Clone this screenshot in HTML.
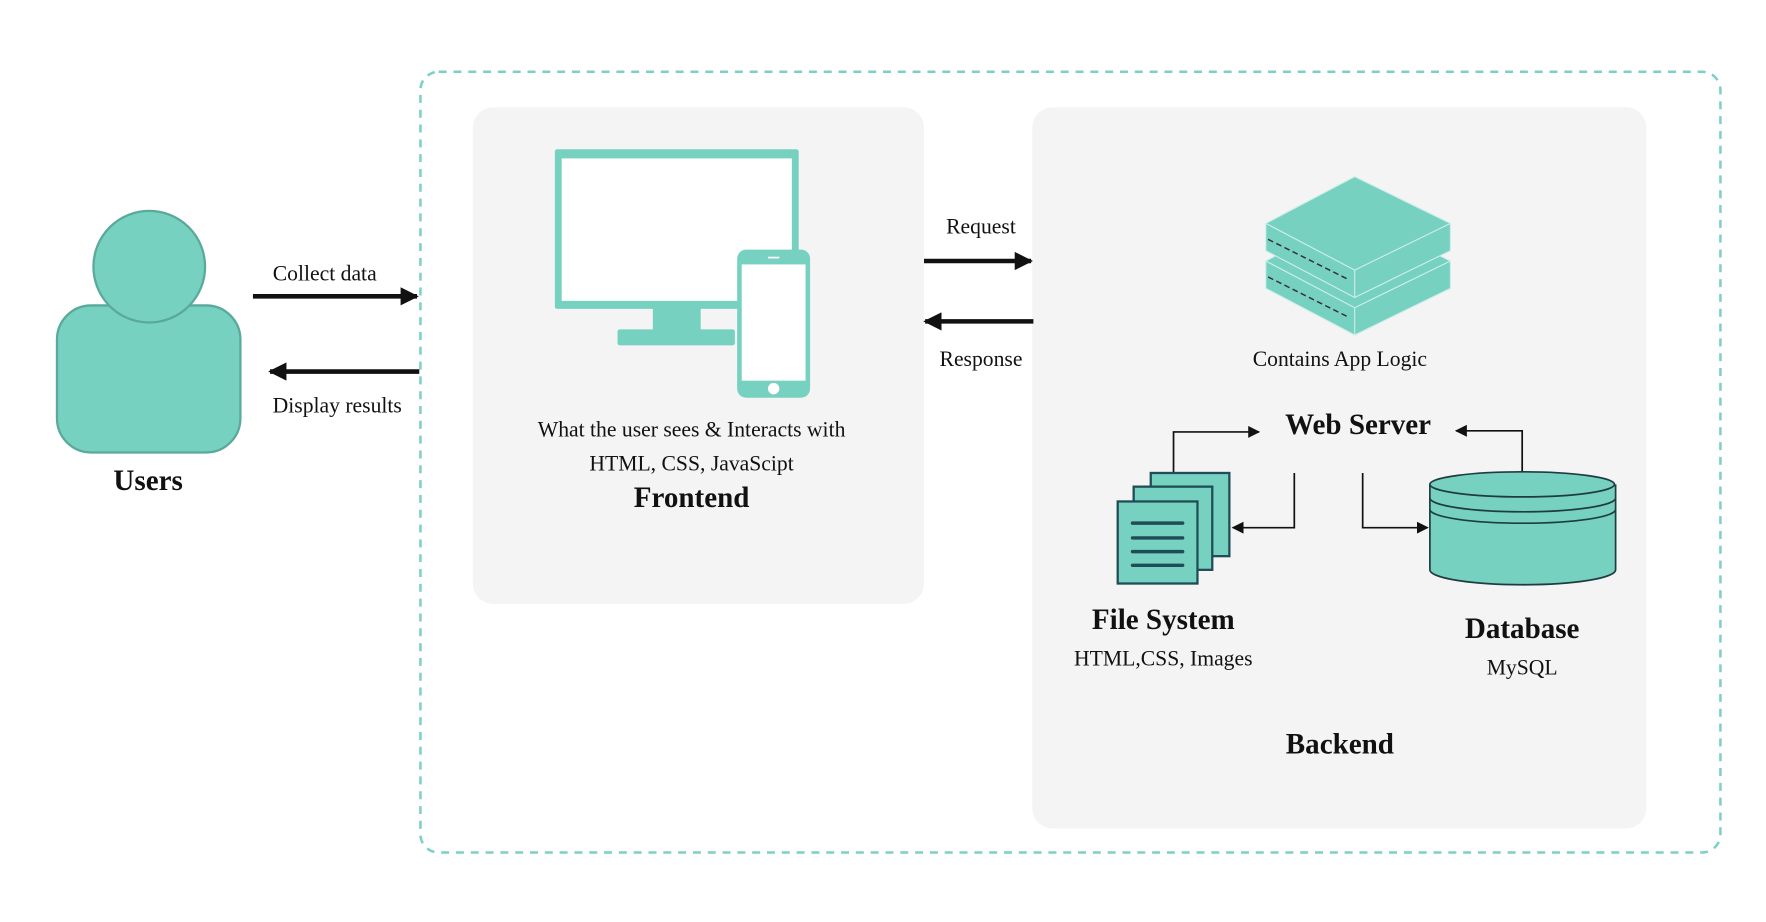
<!DOCTYPE html>
<html><head><meta charset="utf-8"><style>
html,body{margin:0;padding:0;background:#fff;width:1766px;height:922px;overflow:hidden}
svg{display:block}
text{font-family:"Liberation Serif",serif;fill:#111;text-anchor:middle}
</style></head><body>
<svg width="1766" height="922" viewBox="0 0 1550 809" preserveAspectRatio="none" xmlns="http://www.w3.org/2000/svg">
<defs>
<marker id="ah" viewBox="0 0 10 10" refX="9" refY="5" markerWidth="4" markerHeight="4" orient="auto"><path d="M0,0 L10,5 L0,10 z" fill="#111"/></marker>
<marker id="as" viewBox="0 0 10 10" refX="9" refY="5" markerWidth="7" markerHeight="7" orient="auto"><path d="M0,0 L10,5 L0,10 z" fill="#111"/></marker>
</defs>
<rect x="369" y="63" width="1141" height="685" rx="16" fill="none" stroke="#7ecfc4" stroke-width="2.2" stroke-dasharray="7,6"/>
<rect x="415" y="94" width="396" height="436" rx="18" fill="#f4f4f4"/>
<rect x="906" y="94" width="539" height="633" rx="18" fill="#f4f4f4"/>
<rect x="50" y="268" width="161" height="129" rx="30" fill="#76d1c1" stroke="#5aa99b" stroke-width="2"/>
<circle cx="131" cy="234" r="49" fill="#76d1c1" stroke="#5aa99b" stroke-width="2"/>
<text x="130" y="430" font-size="25.5" font-weight="bold">Users</text>
<line x1="222" y1="260" x2="366" y2="260" stroke="#111" stroke-width="4" marker-end="url(#ah)"/>
<text x="285" y="246" font-size="19">Collect data</text>
<line x1="368" y1="326" x2="237" y2="326" stroke="#111" stroke-width="4" marker-end="url(#ah)"/>
<text x="296" y="362" font-size="19">Display results</text>
<rect x="487" y="131" width="214" height="140" rx="2" fill="#76d1c1"/>
<rect x="493" y="139" width="202" height="125" fill="#fff"/>
<rect x="573" y="270" width="42" height="21" fill="#76d1c1"/>
<rect x="542" y="289" width="103" height="14" rx="2" fill="#76d1c1"/>
<rect x="647" y="219" width="64" height="130" rx="8" fill="#76d1c1"/>
<rect x="651" y="232" width="56" height="102" fill="#fff"/>
<circle cx="679" cy="341" r="5" fill="#fff"/>
<line x1="674" y1="226" x2="684" y2="226" stroke="#fff" stroke-width="1.5"/>
<text x="607" y="383" font-size="19">What the user sees &amp; Interacts with</text>
<text x="607" y="413" font-size="19">HTML, CSS, JavaScipt</text>
<text x="607" y="445" font-size="25.5" font-weight="bold">Frontend</text>
<line x1="811" y1="229" x2="905" y2="229" stroke="#111" stroke-width="4" marker-end="url(#ah)"/>
<text x="861" y="205" font-size="19">Request</text>
<line x1="907" y1="282" x2="812" y2="282" stroke="#111" stroke-width="4" marker-end="url(#ah)"/>
<text x="861" y="321" font-size="19">Response</text>
<g stroke="#cdeee8" stroke-width="1">
<path d="M1111,229 L1189,188 L1273,229 L1273,253 L1189,294 L1111,253 z" fill="#76d1c1"/>
<path d="M1111,229 L1189,270 L1273,229" fill="none"/>
<path d="M1111,196 L1189,155 L1273,196 L1273,220 L1189,261 L1111,220 z" fill="#76d1c1"/>
<path d="M1111,196 L1189,237 L1273,196" fill="none"/>
<line x1="1189" y1="237" x2="1189" y2="261"/>
<line x1="1189" y1="270" x2="1189" y2="294"/>
</g>
<path d="M1113,210 L1183,245 M1113,243 L1183,278" stroke="#333" stroke-width="1.3" stroke-dasharray="5,3"/>
<text x="1176" y="321" font-size="19">Contains App Logic</text>
<text x="1192" y="381" font-size="25.5" font-weight="bold">Web Server</text>
<g stroke="#111" stroke-width="1.5" fill="none">
<path d="M1030,415 L1030,379 L1105,379" marker-end="url(#as)"/>
<path d="M1136,415 L1136,463 L1082,463" marker-end="url(#as)"/>
<path d="M1196,415 L1196,463 L1253,463" marker-end="url(#as)"/>
<path d="M1336,415 L1336,378 L1278,378" marker-end="url(#as)"/>
</g>
<g fill="#76d1c1" stroke="#1f4d55" stroke-width="2">
<rect x="1010" y="415" width="69" height="73"/>
<rect x="995" y="427" width="69" height="73"/>
<rect x="981" y="440" width="70" height="72"/>
</g>
<g stroke="#1f4d55" stroke-width="3" stroke-linecap="round">
<line x1="994" y1="459" x2="1038" y2="459"/>
<line x1="994" y1="472" x2="1038" y2="472"/>
<line x1="994" y1="484" x2="1038" y2="484"/>
<line x1="994" y1="496" x2="1038" y2="496"/>
</g>
<g fill="#76d1c1" stroke="#1f3d40" stroke-width="1.5">
<path d="M1255,425 L1255,500 A81,13 0 0 0 1418,500 L1418,425"/>
<path d="M1255,437 A81,12 0 0 0 1418,437" fill="none"/>
<path d="M1255,447 A81,12 0 0 0 1418,447" fill="none"/>
<ellipse cx="1336" cy="425" rx="81" ry="11"/>
</g>
<text x="1021" y="552" font-size="25.5" font-weight="bold">File System</text>
<text x="1021" y="584" font-size="19">HTML,CSS, Images</text>
<text x="1336" y="560" font-size="25.5" font-weight="bold">Database</text>
<text x="1336" y="592" font-size="19">MySQL</text>
<text x="1176" y="661" font-size="25.5" font-weight="bold">Backend</text>
</svg>
</body></html>
